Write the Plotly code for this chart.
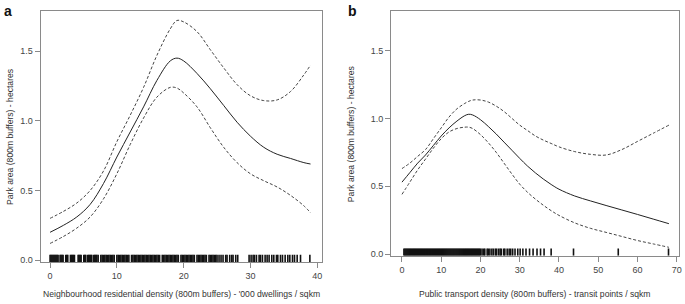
import plotly.graph_objects as go

# ---------------- data: panel a ----------------
xa = [0, 2, 4, 6, 8, 10, 12, 14, 16, 18, 19, 20, 22, 24, 26, 28, 30, 32, 34, 36, 38, 39]
fit_a = [0.20, 0.25, 0.31, 0.40, 0.55, 0.74, 0.92, 1.10, 1.29, 1.43, 1.45, 1.43, 1.34, 1.23,
         1.11, 0.99, 0.89, 0.81, 0.76, 0.73, 0.70, 0.69]
upper_a = [0.30, 0.35, 0.41, 0.50, 0.64, 0.85, 1.04, 1.24, 1.47, 1.66, 1.72, 1.71, 1.64, 1.51,
           1.38, 1.26, 1.18, 1.145, 1.15, 1.21, 1.33, 1.40]
lower_a = [0.12, 0.17, 0.23, 0.31, 0.44, 0.62, 0.83, 1.02, 1.17, 1.24, 1.235, 1.20, 1.10, 0.95,
           0.81, 0.70, 0.62, 0.57, 0.525, 0.465, 0.39, 0.34]
rug_a = [0.0, 0.15, 0.3, 0.45, 0.6, 0.75, 0.9, 1.05, 1.2, 1.5, 1.65, 1.8, 1.95, 2.35, 2.5, 2.65,
         3.05, 3.2, 3.35, 3.5, 3.65,
         4.2, 4.35, 4.5, 4.65, 5.05, 5.2, 5.35, 5.65, 5.8, 5.95, 6.1, 6.25, 6.55, 6.7, 6.85,
         7.0, 7.2, 7.6, 7.8, 8.0, 8.2, 8.4, 8.6, 8.8, 9.0, 9.2, 9.4, 9.6, 10.0, 10.2, 10.4, 10.6,
         10.8, 11.0, 11.2, 11.4, 11.6, 11.8, 12.2, 12.4, 12.6, 12.8, 13.0, 13.2, 13.4, 13.6, 13.8,
         14.0, 14.2, 14.4, 14.6, 14.8, 15.0, 15.2, 15.4, 15.6, 15.8, 16.0, 16.2, 16.4, 16.8, 17.0,
         17.2, 17.4, 17.6, 17.8, 18.0, 18.2, 18.4, 18.6, 18.8, 19.0, 19.2, 19.6, 19.8, 20.0, 20.2,
         20.4, 20.6, 20.8, 21.0, 21.2, 21.4, 21.6, 22.0, 22.2, 22.4, 22.6, 22.8, 23.0, 23.2, 23.4,
         23.8, 24.0, 24.2, 24.4, 24.6, 24.8, 25.0,
         25.3, 25.6, 25.9, 26.3, 26.5, 26.9, 27.2, 27.4, 27.8, 28.1,
         29.8, 30.1, 30.4, 30.6, 30.9, 31.3, 31.5, 31.8, 32.2, 32.5, 32.8, 33.2, 33.5, 33.9, 34.1,
         34.5, 34.8, 35.2, 35.6, 35.9, 36.3, 36.6, 37.0, 37.5, 38.9]
xticks_a = [0, 10, 20, 30, 40]

# ---------------- data: panel b ----------------
xb = [0, 2, 4, 6, 8, 10, 12, 14, 16, 17, 18, 20, 22, 24, 26, 28, 30, 32, 34, 36, 38, 40,
      44, 48, 52, 56, 60, 64, 68]
fit_b = [0.53, 0.60, 0.67, 0.73, 0.80, 0.87, 0.93, 0.98, 1.02, 1.03, 1.025, 0.99, 0.94, 0.885,
         0.825, 0.765, 0.705, 0.648, 0.598, 0.553, 0.513, 0.478, 0.428, 0.392, 0.358, 0.325, 0.292,
         0.258, 0.224]
upper_b = [0.63, 0.67, 0.72, 0.77, 0.85, 0.93, 1.01, 1.07, 1.11, 1.125, 1.135, 1.135, 1.12, 1.09,
           1.05, 1.00, 0.95, 0.91, 0.87, 0.84, 0.815, 0.79, 0.755, 0.735, 0.73, 0.77, 0.83, 0.89, 0.95]
lower_b = [0.44, 0.53, 0.62, 0.70, 0.78, 0.85, 0.90, 0.925, 0.935, 0.935, 0.925, 0.88, 0.82, 0.75,
           0.67, 0.59, 0.515, 0.455, 0.405, 0.36, 0.32, 0.285, 0.23, 0.19, 0.16, 0.13, 0.10, 0.075, 0.05]
rug_b = [0.5, 0.75, 1.0, 1.25, 1.5, 1.75, 2.0, 2.25, 2.5, 2.75, 3.0, 3.25, 3.5, 3.75, 4.0, 4.25,
         4.5, 4.75, 5.0, 5.25, 5.5, 5.75, 6.0, 6.25, 6.5, 6.75, 7.0, 7.25, 7.5, 7.75, 8.0, 8.25,
         8.5, 8.75, 9.0, 9.25, 9.5, 9.75, 10.0, 10.25, 10.5, 10.75, 11.0, 11.25, 11.5, 11.75, 12.0,
         12.25, 12.5, 12.75, 13.0, 13.25, 13.5, 13.75, 14.0, 14.25, 14.5, 14.75, 15.0, 15.25, 15.5,
         15.75, 16.0, 16.25, 16.5, 16.75, 17.0, 17.25, 17.5, 17.75, 18.0, 18.25, 18.5, 18.75, 19.0,
         19.25, 19.5, 19.75, 20.0,
         20.4, 20.8, 21.1, 21.7, 22.0, 22.4, 22.9, 23.3, 23.8, 24.1, 24.6, 25.0, 25.3, 25.9, 26.2,
         26.8, 27.3, 27.7, 28.2, 28.8, 29.5, 30.1, 30.8, 31.6, 32.5, 33.4, 34.4, 35.3, 36.2, 38.0,
         43.7, 55.1, 67.9]
xticks_b = [0, 10, 20, 30, 40, 50, 60, 70]

yticks = [0.0, 0.5, 1.0, 1.5]
ytick_text = ["0.0", "0.5", "1.0", "1.5"]

title_ya = "Park area (800m buffers) - hectares"
title_xa = "Neighbourhood residential density (800m buffers) - '000 dwellings / sqkm"
title_xb = "Public transport density (800m buffers) - transit points / sqkm"

# ---------------- layout geometry ----------------
W, H = 685, 304
FONT = "Liberation Sans, Arial, sans-serif"
yr_a = [-0.016, 1.791]
yr_b = [-0.013, 1.788]
xr_a = [-1.43, 40.73]
xr_b = [-2.8, 70.5]
RUG_H = 0.055


def px(x):
    return x / W


def py(y):
    return 1 - y / H


fig = go.Figure()


def add_panel(xs, fit, up, lo, rug, xref, yref, y0):
    line_kw = dict(shape="spline", smoothing=1.0, width=1)
    fig.add_trace(go.Scatter(x=xs, y=up, mode="lines", xaxis=xref, yaxis=yref,
                             line=dict(color="#444444", dash="3px,2px", **line_kw),
                             showlegend=False, hoverinfo="skip"))
    fig.add_trace(go.Scatter(x=xs, y=lo, mode="lines", xaxis=xref, yaxis=yref,
                             line=dict(color="#444444", dash="3px,2px", **line_kw),
                             showlegend=False, hoverinfo="skip"))
    fig.add_trace(go.Scatter(x=xs, y=fit, mode="lines", xaxis=xref, yaxis=yref,
                             line=dict(color="#222222", **line_kw),
                             showlegend=False, hoverinfo="skip"))
    rx, ry = [], []
    for v in rug:
        rx += [v, v, None]
        ry += [y0, y0 + RUG_H, None]
    fig.add_trace(go.Scatter(x=rx, y=ry, mode="lines", xaxis=xref, yaxis=yref,
                             line=dict(color="#111111", width=1.6, simplify=False),
                             showlegend=False, hoverinfo="skip"))


add_panel(xa, fit_a, upper_a, lower_a, rug_a, "x", "y", yr_a[0])
add_panel(xb, fit_b, upper_b, lower_b, rug_b, "x2", "y2", yr_b[0])

axis_common = dict(showline=True, mirror=True, linecolor="#8a8a8a", linewidth=1,
                   ticks="outside", ticklen=5, tickcolor="#8a8a8a", tickwidth=1,
                   showgrid=False, zeroline=False,
                   tickfont=dict(family=FONT, size=9, color="#444444"))

fig.update_layout(
    width=W, height=H, autosize=False,
    margin=dict(l=0, r=0, t=0, b=0),
    paper_bgcolor="white", plot_bgcolor="white",
    font=dict(family=FONT),
    xaxis=dict(domain=[px(40.7), px(323.5)], range=xr_a, tickvals=xticks_a,
               anchor="y", **axis_common),
    yaxis=dict(domain=[py(265), py(10.7)], range=yr_a, tickvals=yticks,
               ticktext=ytick_text, anchor="x", **axis_common),
    xaxis2=dict(domain=[px(392.7), px(681.7)], range=xr_b, tickvals=xticks_b,
                anchor="y2", **axis_common),
    yaxis2=dict(domain=[py(258.4), py(11.5)], range=yr_b, tickvals=yticks,
                ticktext=ytick_text, anchor="x2", **axis_common),
)

ann_font = dict(family=FONT, size=8.6, color="#333333")
annotations = [
    dict(text=title_xa, x=px(182.8), y=py(297), xref="paper", yref="paper",
         showarrow=False, xanchor="center", yanchor="middle", font=ann_font),
    dict(text=title_xb, x=px(537.8), y=py(297), xref="paper", yref="paper",
         showarrow=False, xanchor="center", yanchor="middle", font=ann_font),
    dict(text=title_ya, x=px(10.5), y=py(137.8), xref="paper", yref="paper", textangle=-90,
         showarrow=False, xanchor="center", yanchor="middle", font=ann_font),
    dict(text=title_ya, x=px(352), y=py(135), xref="paper", yref="paper", textangle=-90,
         showarrow=False, xanchor="center", yanchor="middle", font=ann_font),
    dict(text="<b>a</b>", x=px(2), y=py(1), xref="paper", yref="paper",
         showarrow=False, xanchor="left", yanchor="top",
         font=dict(family=FONT, size=14, color="#111111")),
    dict(text="<b>b</b>", x=px(348), y=py(1), xref="paper", yref="paper",
         showarrow=False, xanchor="left", yanchor="top",
         font=dict(family=FONT, size=14, color="#111111")),
]
fig.update_layout(annotations=annotations)

fig.write_html("out.html", config={"displayModeBar": False},
               post_script="document.body.style.margin='0';document.body.style.padding='0';")
